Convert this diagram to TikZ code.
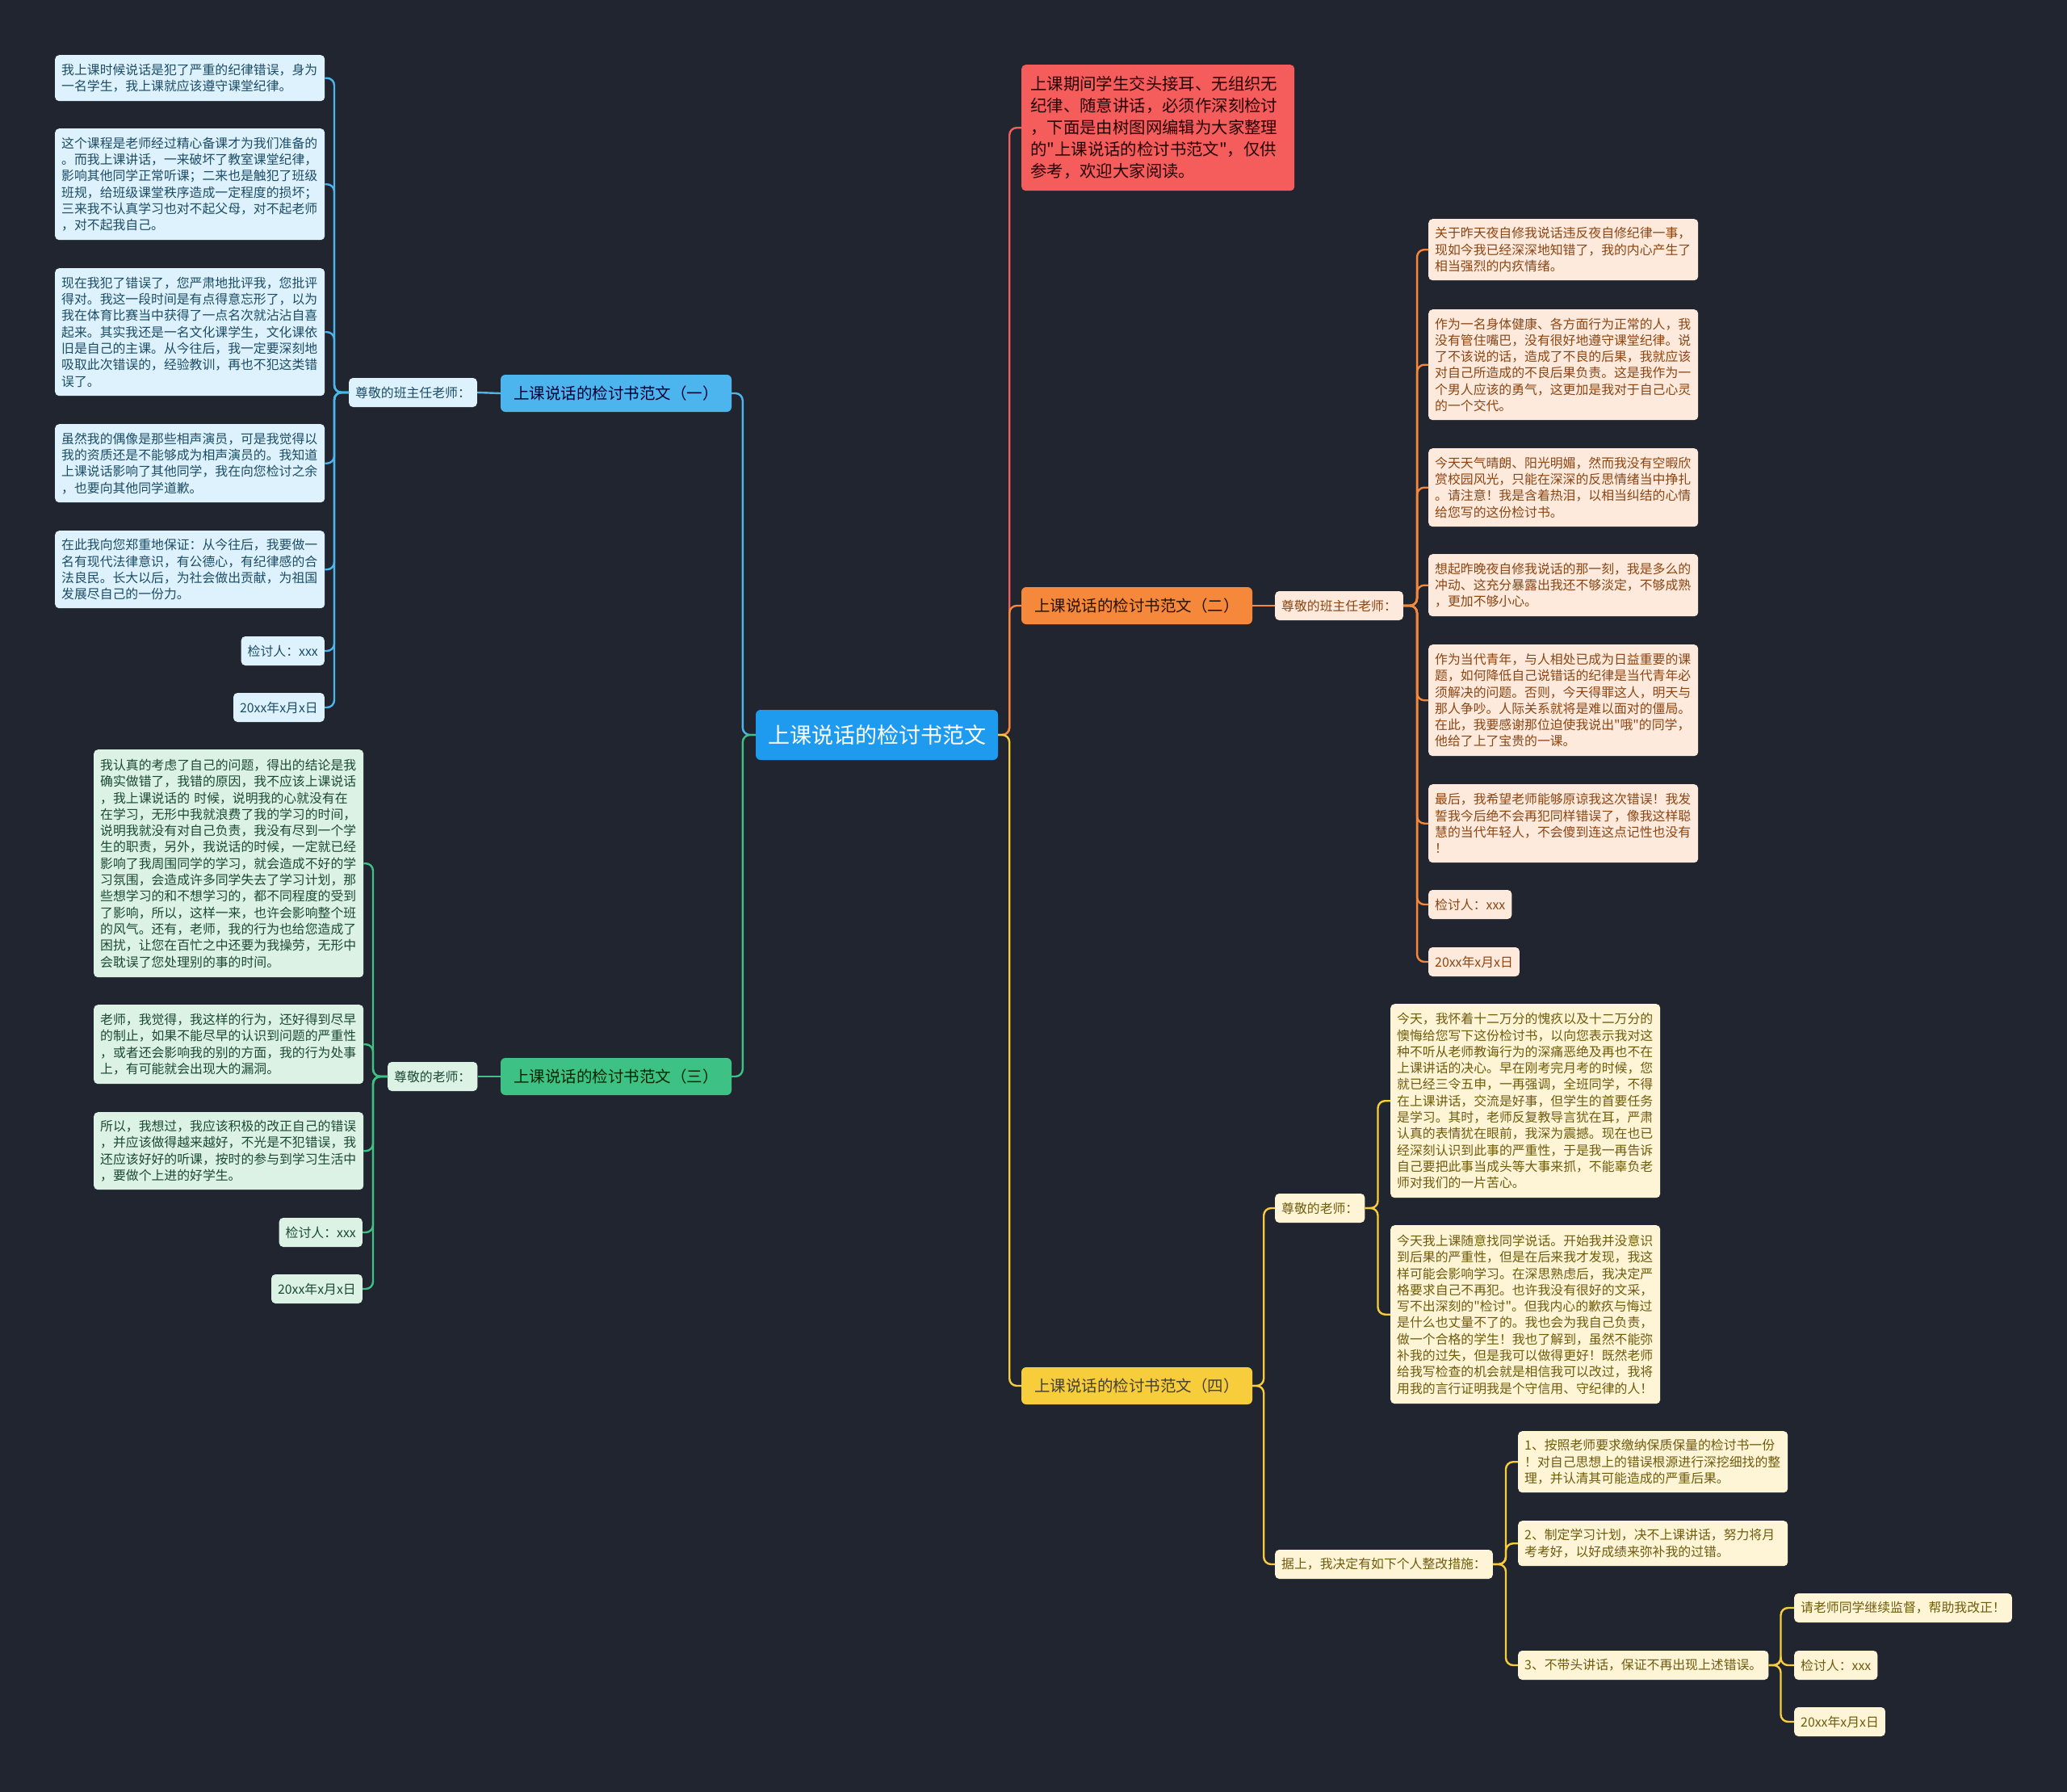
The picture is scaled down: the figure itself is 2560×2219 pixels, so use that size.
\documentclass[tikz,border=0pt]{standalone}
\usepackage{fontspec}
\setmainfont{Noto Sans CJK SC}[Ligatures=TeXOff]
\usepackage{xcolor}
\usepackage{tikz}
\usetikzlibrary{positioning,calc}

\definecolor{bgdark}{HTML}{21252F}
\definecolor{rootblue}{HTML}{1E9BEF}
\definecolor{skyblue}{HTML}{4DB5EE}
\definecolor{tangerine}{HTML}{F5883A}
\definecolor{mintgreen}{HTML}{3EC184}
\definecolor{sunyellow}{HTML}{F8CD3C}
\definecolor{coral}{HTML}{F55D5D}
\definecolor{bluepale}{HTML}{DDF2FC}
\definecolor{bluetext}{HTML}{1C4C66}
\definecolor{greenpale}{HTML}{DCF2E5}
\definecolor{greentext}{HTML}{1B4934}
\definecolor{orangepale}{HTML}{FDEADC}
\definecolor{orangetext}{HTML}{8B4513}
\definecolor{yellowpale}{HTML}{FEF5D7}
\definecolor{yellowtext}{HTML}{6F5B0C}

\tikzset{
  box/.style={rounded corners=5pt, inner xsep=8pt, inner ysep=4pt, align=left,
    font=\fontsize{15.85}{20.3}\selectfont},
  leaf/.style={box, text width=318pt, anchor=north west},
  tag/.style={box, minimum height=36pt},
  branch/.style={rounded corners=6pt, minimum width=286pt, minimum height=46pt,
    font=\fontsize{19.5}{22}\selectfont},
  link/.style={line width=2.4pt, rounded corners=9pt},
}

\begin{document}
\begin{tikzpicture}[x=1pt, y=-1pt]
  \fill[bgdark] (0,0) rectangle (2560,2219);
  % ---- root, intro and the four branches
  \node[fill=rootblue, text=white, rounded corners=6pt, minimum width=300pt, minimum height=62pt,
    font=\fontsize{27}{30}\selectfont] (root) at (1086,910) {上课说话的检讨书范文};
  \node[fill=coral, text={black!85!red}, rounded corners=5pt, anchor=north west, text width=316pt,
    inner xsep=11pt, minimum height=156pt, align=left, font=\fontsize{20.4}{27}\selectfont]
    (intro) at (1265,80) {上课期间学生交头接耳、无组织无\\纪律、随意讲话，必须作深刻检讨\\，下面是由树图网编辑为大家整理\\的"上课说话的检讨书范文"，仅供\\参考，欢迎大家阅读。};
  \node[branch, fill=skyblue, text={black!80!blue}] (b1) at (763,487) {上课说话的检讨书范文（一）};
  \node[branch, fill=tangerine, text={black!85!orange}] (b2) at (1408,750) {上课说话的检讨书范文（二）};
  \node[branch, fill=mintgreen, text={black!85!green}] (b3) at (763,1333) {上课说话的检讨书范文（三）};
  \node[branch, fill=sunyellow, text={black!85!yellow}] (b4) at (1408,1716) {上课说话的检讨书范文（四）};

  % ---- branch (一)
  \node[tag, fill=bluepale, text=bluetext, anchor=west] (m1) at (432,486) {尊敬的班主任老师：};
  \begin{scope}[every node/.style={fill=bluepale, text=bluetext}]
    \node[leaf, minimum height=57pt] (l1) at (68,68) {我上课时候说话是犯了严重的纪律错误，身为\\一名学生，我上课就应该遵守课堂纪律。};
    \node[leaf, minimum height=138pt] (l2) at (68,159) {这个课程是老师经过精心备课才为我们准备的\\。而我上课讲话，一来破坏了教室课堂纪律，\\影响其他同学正常听课；二来也是触犯了班级\\班规，给班级课堂秩序造成一定程度的损坏；\\三来我不认真学习也对不起父母，对不起老师\\，对不起我自己。};
    \node[leaf, minimum height=158pt] (l3) at (68,332) {现在我犯了错误了，您严肃地批评我，您批评\\得对。我这一段时间是有点得意忘形了，以为\\我在体育比赛当中获得了一点名次就沾沾自喜\\起来。其实我还是一名文化课学生，文化课依\\旧是自己的主课。从今往后，我一定要深刻地\\吸取此次错误的，经验教训，再也不犯这类错\\误了。};
    \node[leaf, minimum height=97pt] (l4) at (68,525) {虽然我的偶像是那些相声演员，可是我觉得以\\我的资质还是不能够成为相声演员的。我知道\\上课说话影响了其他同学，我在向您检讨之余\\，也要向其他同学道歉。};
    \node[leaf, minimum height=96pt] (l5) at (68,657) {在此我向您郑重地保证：从今往后，我要做一\\名有现代法律意识，有公德心，有纪律感的合\\法良民。长大以后，为社会做出贡献，为祖国\\发展尽自己的一份力。};
    \node[tag, anchor=east] (l6) at (402,806) {检讨人：xxx};
    \node[tag, anchor=east] (l7) at (402,876) {20xx年x月x日};
  \end{scope}

  % ---- branch (二)
  \node[tag, fill=orangepale, text=orangetext, anchor=west] (m2) at (1579,750) {尊敬的班主任老师：};
  \begin{scope}[every node/.style={fill=orangepale, text=orangetext}]
    \node[leaf, minimum height=76pt] (r1) at (1769,271) {关于昨天夜自修我说话违反夜自修纪律一事，\\现如今我已经深深地知错了，我的内心产生了\\相当强烈的内疚情绪。};
    \node[leaf, minimum height=137pt] (r2) at (1769,383) {作为一名身体健康、各方面行为正常的人，我\\没有管住嘴巴，没有很好地遵守课堂纪律。说\\了不该说的话，造成了不良的后果，我就应该\\对自己所造成的不良后果负责。这是我作为一\\个男人应该的勇气，这更加是我对于自己心灵\\的一个交代。};
    \node[leaf, minimum height=97pt] (r3) at (1769,555) {今天天气晴朗、阳光明媚，然而我没有空暇欣\\赏校园风光，只能在深深的反思情绪当中挣扎\\。请注意！我是含着热泪，以相当纠结的心情\\给您写的这份检讨书。};
    \node[leaf, minimum height=77pt] (r4) at (1769,686) {想起昨晚夜自修我说话的那一刻，我是多么的\\冲动、这充分暴露出我还不够淡定，不够成熟\\，更加不够小心。};
    \node[leaf, minimum height=138pt] (r5) at (1769,798) {作为当代青年，与人相处已成为日益重要的课\\题，如何降低自己说错话的纪律是当代青年必\\须解决的问题。否则，今天得罪这人，明天与\\那人争吵。人际关系就将是难以面对的僵局。\\在此，我要感谢那位迫使我说出"哦"的同学，\\他给了上了宝贵的一课。};
    \node[leaf, minimum height=97pt] (r6) at (1769,971) {最后，我希望老师能够原谅我这次错误！我发\\誓我今后绝不会再犯同样错误了，像我这样聪\\慧的当代年轻人，不会傻到连这点记性也没有\\！};
    \node[tag, anchor=west] (r7) at (1769,1120) {检讨人：xxx};
    \node[tag, anchor=west] (r8) at (1769,1191) {20xx年x月x日};
  \end{scope}

  % ---- branch (三)
  \node[tag, fill=greenpale, text=greentext, anchor=west] (m3) at (480,1333) {尊敬的老师：};
  \begin{scope}[every node/.style={fill=greenpale, text=greentext}]
    \node[leaf, minimum height=282pt] (g1) at (116,928) {我认真的考虑了自己的问题，得出的结论是我\\确实做错了，我错的原因，我不应该上课说话\\，我上课说话的 时候，说明我的心就没有在\\在学习，无形中我就浪费了我的学习的时间，\\说明我就没有对自己负责，我没有尽到一个学\\生的职责，另外，我说话的时候，一定就已经\\影响了我周围同学的学习，就会造成不好的学\\习氛围，会造成许多同学失去了学习计划，那\\些想学习的和不想学习的，都不同程度的受到\\了影响，所以，这样一来，也许会影响整个班\\的风气。还有，老师，我的行为也给您造成了\\困扰，让您在百忙之中还要为我操劳，无形中\\会耽误了您处理别的事的时间。};
    \node[leaf, minimum height=98pt] (g2) at (116,1244) {老师，我觉得，我这样的行为，还好得到尽早\\的制止，如果不能尽早的认识到问题的严重性\\，或者还会影响我的别的方面，我的行为处事\\上，有可能就会出现大的漏洞。};
    \node[leaf, minimum height=96pt] (g3) at (116,1377) {所以，我想过，我应该积极的改正自己的错误\\，并应该做得越来越好，不光是不犯错误，我\\还应该好好的听课，按时的参与到学习生活中\\，要做个上进的好学生。};
    \node[tag, anchor=east] (g4) at (449,1526) {检讨人：xxx};
    \node[tag, anchor=east] (g5) at (449,1596) {20xx年x月x日};
  \end{scope}

  % ---- branch (四)
  \begin{scope}[every node/.style={fill=yellowpale, text=yellowtext}]
    \node[tag, anchor=west] (m4a) at (1579,1496) {尊敬的老师：};
    \node[tag, anchor=west] (m4b) at (1579,1937) {据上，我决定有如下个人整改措施：};
    \node[leaf, minimum height=240pt] (y1) at (1722,1243) {今天，我怀着十二万分的愧疚以及十二万分的\\懊悔给您写下这份检讨书，以向您表示我对这\\种不听从老师教诲行为的深痛恶绝及再也不在\\上课讲话的决心。早在刚考完月考的时候，您\\就已经三令五申，一再强调，全班同学，不得\\在上课讲话，交流是好事，但学生的首要任务\\是学习。其时，老师反复教导言犹在耳，严肃\\认真的表情犹在眼前，我深为震撼。现在也已\\经深刻认识到此事的严重性，于是我一再告诉\\自己要把此事当成头等大事来抓，不能辜负老\\师对我们的一片苦心。};
    \node[leaf, minimum height=221pt] (y2) at (1722,1517) {今天我上课随意找同学说话。开始我并没意识\\到后果的严重性，但是在后来我才发现，我这\\样可能会影响学习。在深思熟虑后，我决定严\\格要求自己不再犯。也许我没有很好的文采，\\写不出深刻的"检讨"。但我内心的歉疚与悔过\\是什么也丈量不了的。我也会为我自己负责，\\做一个合格的学生！我也了解到，虽然不能弥\\补我的过失，但是我可以做得更好！既然老师\\给我写检查的机会就是相信我可以改过，我将\\用我的言行证明我是个守信用、守纪律的人！};
    \node[leaf, minimum height=76pt] (i1) at (1880,1772) {1、按照老师要求缴纳保质保量的检讨书一份\\！对自己思想上的错误根源进行深挖细找的整\\理，并认清其可能造成的严重后果。};
    \node[leaf, minimum height=56pt] (i2) at (1880,1883) {2、制定学习计划，决不上课讲话，努力将月\\考考好，以好成绩来弥补我的过错。};
    \node[tag, anchor=west] (i3) at (1880,2062) {3、不带头讲话，保证不再出现上述错误。};
    \node[tag, anchor=west] (s1) at (2222,1991) {请老师同学继续监督，帮助我改正！};
    \node[tag, anchor=west] (s2) at (2222,2062) {检讨人：xxx};
    \node[tag, anchor=west] (s3) at (2222,2132) {20xx年x月x日};
  \end{scope}

  % ---- connectors
  \draw[link, skyblue] (root.west) -- ++(-16,0) |- (b1.east);
  \draw[link, mintgreen] (root.west) -- ++(-16,0) |- (b3.east);
  \draw[link, coral] (root.east) -- ++(14,0) |- (intro.west);
  \draw[link, tangerine] (root.east) -- ++(14,0) |- (b2.west);
  \draw[link, sunyellow] (root.east) -- ++(14,0) |- (b4.west);
  \draw[link, skyblue] (b1.west) -- (m1.east);
  \draw[link, tangerine] (b2.east) -- (m2.west);
  \draw[link, mintgreen] (b3.west) -- (m3.east);
  \foreach \n in {l1,l2,l3,l4,l5,l6,l7}
    \draw[link, skyblue] (m1.west) -- ++(-18,0) |- (\n.east);
  \foreach \n in {r1,r2,r3,r4,r5,r6,r7,r8}
    \draw[link, tangerine] (m2.east) -- ++(17,0) |- (\n.west);
  \foreach \n in {g1,g2,g3,g4,g5}
    \draw[link, mintgreen] (m3.west) -- ++(-18,0) |- (\n.east);
  \foreach \n in {m4a,m4b}
    \draw[link, sunyellow] (b4.east) -- ++(14,0) |- (\n.west);
  \foreach \n in {y1,y2}
    \draw[link, sunyellow] (m4a.east) -- ++(16,0) |- (\n.west);
  \foreach \n in {i1,i2,i3}
    \draw[link, sunyellow] (m4b.east) -- ++(16,0) |- (\n.west);
  \foreach \n in {s1,s2,s3}
    \draw[link, sunyellow] (i3.east) -- ++(15,0) |- (\n.west);
\end{tikzpicture}
\end{document}
